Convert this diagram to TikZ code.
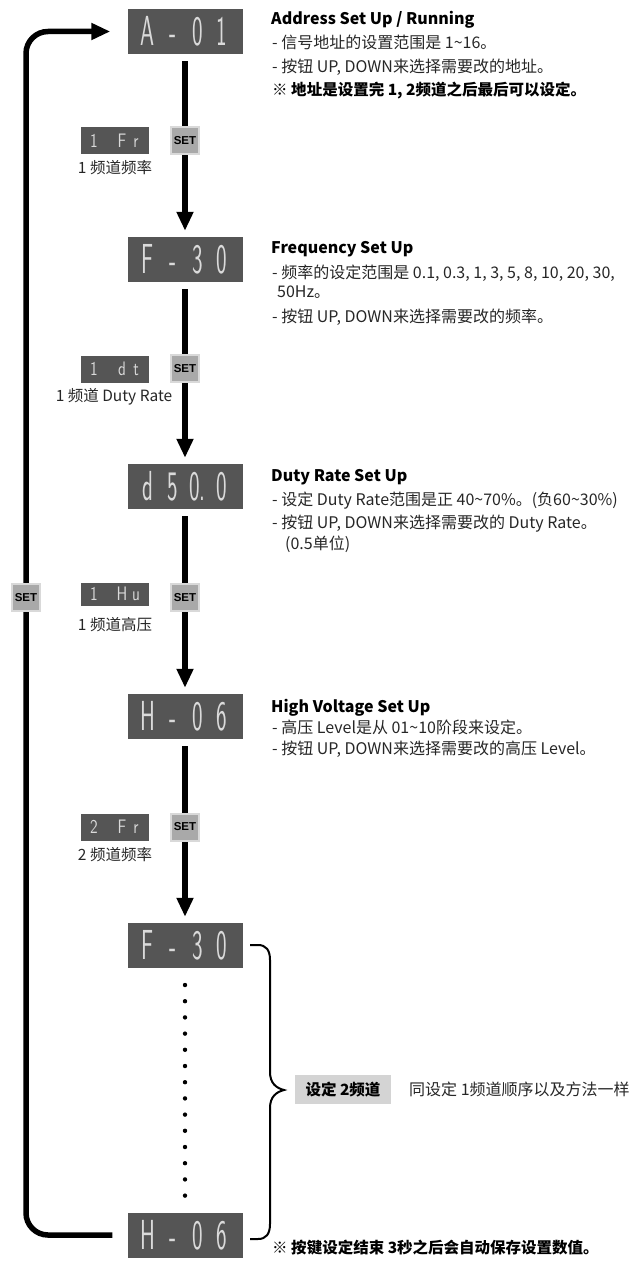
\documentclass[tikz,border=0pt]{standalone}
\usepackage{fontspec}
\usepackage{graphicx}
\setmainfont{Noto Sans CJK SC}
\newfontfamily\keyfont{Liberation Sans}
\usetikzlibrary{arrows.meta}

\definecolor{lcdgray}{HTML}{555555}
\definecolor{lcdtext}{HTML}{DADADA}
\definecolor{keygray}{HTML}{A9A9A9}
\definecolor{keyring}{HTML}{D9D9D9}
\definecolor{notegray}{HTML}{D4D4D4}

% one place of the big and of the small display
\newcommand\bigseg[4]{\scalebox{0.8}[1.5]{\makebox[31pt]{#1}\makebox[31pt]{#2}\makebox[31pt]{#3}\makebox[31pt]{#4}}}
\newcommand\smallseg[4]{\scalebox{1.2}[1.5]{\makebox[11.7pt]{#1}\makebox[11.7pt]{#2}\makebox[11.7pt]{#3}\makebox[11.7pt]{#4}}}

\tikzset{
  lcd/.style={fill=lcdgray, text=lcdtext, minimum width=115pt, minimum height=45pt, inner sep=0pt, font=\sffamily\fontsize{28}{28}\selectfont},
  minilcd/.style={fill=lcdgray, text=lcdtext, minimum width=68pt, minimum height=27pt, inner sep=0pt, font=\sffamily\fontsize{13}{13}\selectfont},
  setkey/.style={fill=keygray, draw=keyring, line width=2pt, minimum width=28pt, minimum height=27pt, inner sep=0pt, font=\keyfont\bfseries\fontsize{11.5}{11.5}\selectfont},
  flow/.style={line width=5.5pt, -{Triangle[length=19pt,width=16pt]}},
  caption/.style={inner sep=0pt, text=black!85, font=\fontsize{15.5}{15.5}\selectfont},
  heading/.style={anchor=base west, inner sep=0pt, font=\bfseries\fontsize{16}{16}\selectfont},
  body/.style={anchor=base west, inner sep=0pt, text=black!85, font=\fontsize{16}{16}\selectfont},
  boldbody/.style={body, text=black, font=\bfseries\fontsize{15.5}{15.5}\selectfont},
  notebox/.style={fill=notegray, minimum width=96pt, minimum height=29pt, inner sep=0pt, font=\bfseries\fontsize{15.5}{15.5}\selectfont},
}

\begin{document}
\begin{tikzpicture}[x=1pt, y=-1pt]
    %%%%% START %%%%%
    \useasboundingbox (0,0) rectangle (635,1265);

    % displays
    \node[lcd] (a01) at (185, 31.5) {\bigseg{A}{-}{0}{1}};
    \node[lcd] (f30) at (185, 259.5) {\bigseg{F}{-}{3}{0}};
    \node[lcd] (d50) at (185, 486.5) {\bigseg{d}{5}{0.}{0}};
    \node[lcd] (h06) at (185, 716.5) {\bigseg{H}{-}{0}{6}};
    \node[lcd] (f30b) at (185, 945.5) {\bigseg{F}{-}{3}{0}};
    \node[lcd] (h06b) at (185, 1235) {\bigseg{H}{-}{0}{6}};

    % arrows down
    \draw[flow, shorten <=7pt, shorten >=6pt] (a01.south) -- (f30.north);
    \draw[flow, shorten <=7pt, shorten >=6pt] (f30.south) -- (d50.north);
    \draw[flow, shorten <=7pt, shorten >=6pt] (d50.south) -- (h06.north);
    \draw[flow, shorten <=7pt, shorten >=6pt] (h06.south) -- (f30b.north);

    % back to the start
    \draw[flow, rounded corners=22pt, shorten <=15pt, shorten >=17pt] (h06b.west) -| (26, 600) |- (a01.west);

    \node[setkey] (set1) at (185, 140.5) {SET};
    \node[setkey] (set2) at (185, 368.5) {SET};
    \node[setkey] (set3) at (185, 597.5) {SET};
    \node[setkey] (set4) at (185, 827) {SET};
    \node[setkey] (setback) at (26, 597.5) {SET};

    % small displays
    \node[minilcd] (fr1) at (115, 140.5) {\smallseg{1}{}{F}{r}};
    \node[caption] (fr1cap) at (115, 168) {1 频道频率};
    \node[minilcd] (dt1) at (115, 369) {\smallseg{1}{}{d}{t}};
    \node[caption] (dt1cap) at (114, 397) {1 频道 Duty Rate};
    \node[minilcd, minimum height=23pt] (hu1) at (115, 594) {\smallseg{1}{}{H}{u}};
    \node[caption] (hu1cap) at (115, 625) {1 频道高压};
    \node[minilcd] (fr2) at (115, 827) {\smallseg{2}{}{F}{r}};
    \node[caption] (fr2cap) at (115, 855) {2 频道频率};

    % texts
    \node[heading] (h1) at (271, 25) {Address Set Up / Running};
    \node[body] (b1a) at (272, 49) {- 信号地址的设置范围是 1\textasciitilde16。};
    \node[body] (b1b) at (272, 73) {- 按钮 UP, DOWN来选择需要改的地址。};
    \node[boldbody] (b1c) at (272, 96) {※ 地址是设置完 1, 2频道之后最后可以设定。};

    \node[heading] (h2) at (271, 253) {Frequency Set Up};
    \node[body] (b2a) at (272, 278) {- 频率的设定范围是 0.1, 0.3, 1, 3, 5, 8, 10, 20, 30,};
    \node[body] (b2b) at (277, 297) {50Hz。};
    \node[body] (b2c) at (272, 322) {- 按钮 UP, DOWN来选择需要改的频率。};

    \node[heading] (h3) at (271, 481) {Duty Rate Set Up};
    \node[body] (b3a) at (272, 505) {- 设定 Duty Rate范围是正 40\textasciitilde70\%。(负60\textasciitilde30\%)};
    \node[body] (b3b) at (272, 528) {- 按钮 UP, DOWN来选择需要改的 Duty Rate。};
    \node[body] (b3c) at (285, 549) {(0.5单位)};

    \node[heading] (h4) at (271, 712) {High Voltage Set Up};
    \node[body] (b4a) at (272, 733) {- 高压 Level是从 01\textasciitilde10阶段来设定。};
    \node[body] (b4b) at (272, 754) {- 按钮 UP, DOWN来选择需要改的高压 Level。};

    % channel 2
    \foreach \k in {0,...,13}
        \fill (185, 985+16.2*\k) circle (2.2pt);

    \draw[line width=2pt] (250, 945) -- (258, 945) .. controls (266, 945) and (270, 950) .. (270, 960) -- (270, 1072) .. controls (270, 1083) and (276, 1088) .. (284, 1090) .. controls (276, 1092) and (270, 1097) .. (270, 1108) -- (270, 1224) .. controls (270, 1234) and (266, 1239) .. (258, 1239) -- (250, 1239);

    \node[notebox] (ch2) at (343, 1089.5) {设定 2频道};
    \node[body] (ch2txt) at (409, 1095) {同设定 1频道顺序以及方法一样};

    \node[boldbody] (savenote) at (272, 1253) {※ 按键设定结束 3秒之后会自动保存设置数值。};

    %%%%% END %%%%%
\end{tikzpicture}
\end{document}
